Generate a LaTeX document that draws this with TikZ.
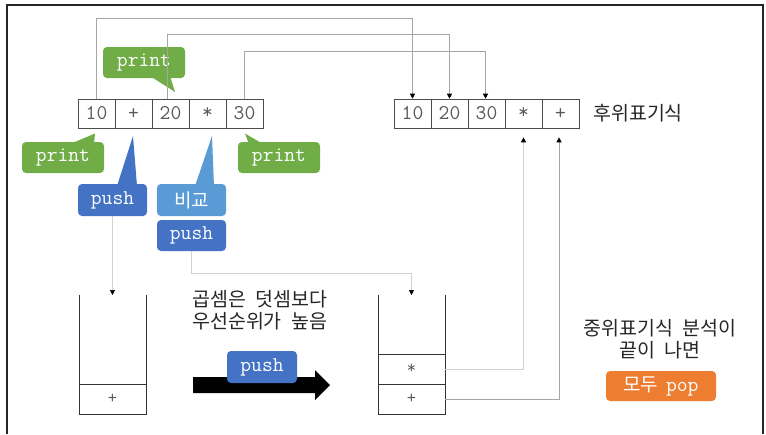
\documentclass[tikz,border=0pt]{standalone}
\usepackage{fontspec}
\newfontfamily\kr{Noto Sans CJK KR}
\usetikzlibrary{arrows.meta,calc}
\definecolor{cgreen}{HTML}{70AD47}
\definecolor{cblue}{HTML}{4472C4}
\definecolor{clblue}{HTML}{5B9BD5}
\definecolor{corange}{HTML}{ED7D31}
\definecolor{ctext}{HTML}{595959}
\definecolor{cline}{HTML}{A6A6A6}
\definecolor{clight}{HTML}{D0D0D0}
\begin{document}
\begin{tikzpicture}[x=1pt,y=-1pt,
  cell/.style={draw=black!70, line width=0.6pt, minimum width=37pt, minimum height=29pt, inner sep=0pt, font=\fontsize{21}{21}\ttfamily, text=ctext},
  scell/.style={minimum width=67pt, minimum height=30pt, inner sep=0pt, font=\fontsize{18}{18}\ttfamily, text=ctext},
  box/.style={fill=#1, rounded corners=4pt, inner sep=0pt, text=white, minimum height=31pt, font=\fontsize{21}{21}\ttfamily},
  krbox/.style={fill=#1, rounded corners=4pt, inner sep=0pt, text=white, minimum height=31pt, font=\fontsize{19}{19}\kr},
  conn/.style={draw=cline, line width=0.7pt, -{Triangle[width=5pt,length=5pt,color=black]}},
  lconn/.style={conn, draw=clight},
  wall/.style={draw=black!80, line width=0.8pt},
  krtext/.style={font=\fontsize{19.5}{22}\kr, text=black!85, inner sep=0pt}
]
\useasboundingbox (0,0) rectangle (766,434);
% frame
\draw[line width=1.5pt, black!85] (7,434) -- (7,5) -- (763,5) -- (763,434);

% infix array
\node[cell] (l1) at (96.5,113.5) {10};
\node[cell] (l2) at (133.5,113.5) {+};
\node[cell] (l3) at (170.5,113.5) {20};
\node[cell] (l4) at (207.5,113.5) {*};
\node[cell] (l5) at (244.5,113.5) {30};

% postfix array
\node[cell] (r1) at (412.5,113.5) {10};
\node[cell] (r2) at (449.5,113.5) {20};
\node[cell] (r3) at (486.5,113.5) {30};
\node[cell] (r4) at (523.5,113.5) {*};
\node[cell] (r5) at (560.5,113.5) {+};
\node[krtext, anchor=west] (post) at (593,113) {후위표기식};

% callouts
\node[box=cgreen, minimum width=82pt] (p1) at (144,62.5) {print};
\fill[cgreen] (150,76) -- (175,92) -- (170,76) -- cycle;
\node[box=cgreen, minimum width=82pt] (p2) at (63,157.5) {print};
\fill[cgreen] (70,144) -- (95,133.5) -- (94,144) -- cycle;
\node[box=cgreen, minimum width=82pt] (p3) at (279,157.5) {print};
\fill[cgreen] (249,144) -- (245,133.5) -- (263,144) -- cycle;
\node[box=cblue, minimum width=69pt, minimum height=32pt] (pushA) at (112.5,200) {push};
\fill[cblue] (117,186) -- (133,136) -- (137,186) -- cycle;
\node[krbox=clblue, minimum width=69pt, minimum height=32pt] (cmp) at (191.5,200) {비교};
\fill[clblue] (195,186) -- (212,136) -- (214,186) -- cycle;
\node[box=cblue, minimum width=69pt] (pushB) at (191.5,235.5) {push};

% left stack
\coordinate (lsTop) at (112.5,295);
\draw[wall] (79,295) -- (79,414) -- (146,414) -- (146,295);
\draw[wall] (79,384) -- (146,384);
\node[scell] (lsPlus) at (112.5,399) {+};

% right stack
\coordinate (rsTop) at (411.5,295);
\draw[wall] (378,295) -- (378,414) -- (445,414) -- (445,295);
\draw[wall] (378,354) -- (445,354);
\draw[wall] (378,384) -- (445,384);
\node[scell] (rsStar) at (411.5,369) {*};
\node[scell] (rsPlus) at (411.5,399) {+};

% middle text and arrow
\node[krtext, anchor=west, align=left] (prio) at (192,310) {곱셈은\hspace{0.5em}덧셈보다\\우선순위가\hspace{0.5em}높음};
\fill[black] (193,377) -- (315,377) -- (315,370) -- (330,385) -- (315,400) -- (315,393) -- (193,393) -- cycle;
\node[box=cblue, minimum width=70pt, minimum height=32pt] (pushC) at (262,367) {push};

% right text
\node[krtext, align=center] (endtxt) at (660,339) {중위표기식\hspace{0.5em}분석이\\끝이\hspace{0.5em}나면};
\node[fill=corange, rounded corners=4pt, inner sep=0pt, text=white, minimum width=110pt, minimum height=30pt] (pop) at (661,386) {\fontsize{19}{19}\kr 모두\hspace{0.4em}\fontsize{21}{21}\ttfamily pop};

% connectors
\draw[conn] (l1.north) -- ++(0,-80) -| (r1.north);
\draw[conn] ($(l3.north)+(-3,0)$) -- ++(0,-64) -| (r2.north);
\draw[conn] (l5.north) -- ++(0,-47) -| ($(r3.north)+(-1,0)$);
\draw[lconn] (pushA.south) -- (lsTop);
\draw[lconn] (pushB.south) -- ++(0,22) -| (rsTop);
\draw[lconn, shorten >=9pt] (rsStar.east) -| (r4.south);
\draw[conn, shorten >=9pt] (rsPlus.east) -| ($(r5.south)+(-1.5,0)$);
\end{tikzpicture}
\end{document}
